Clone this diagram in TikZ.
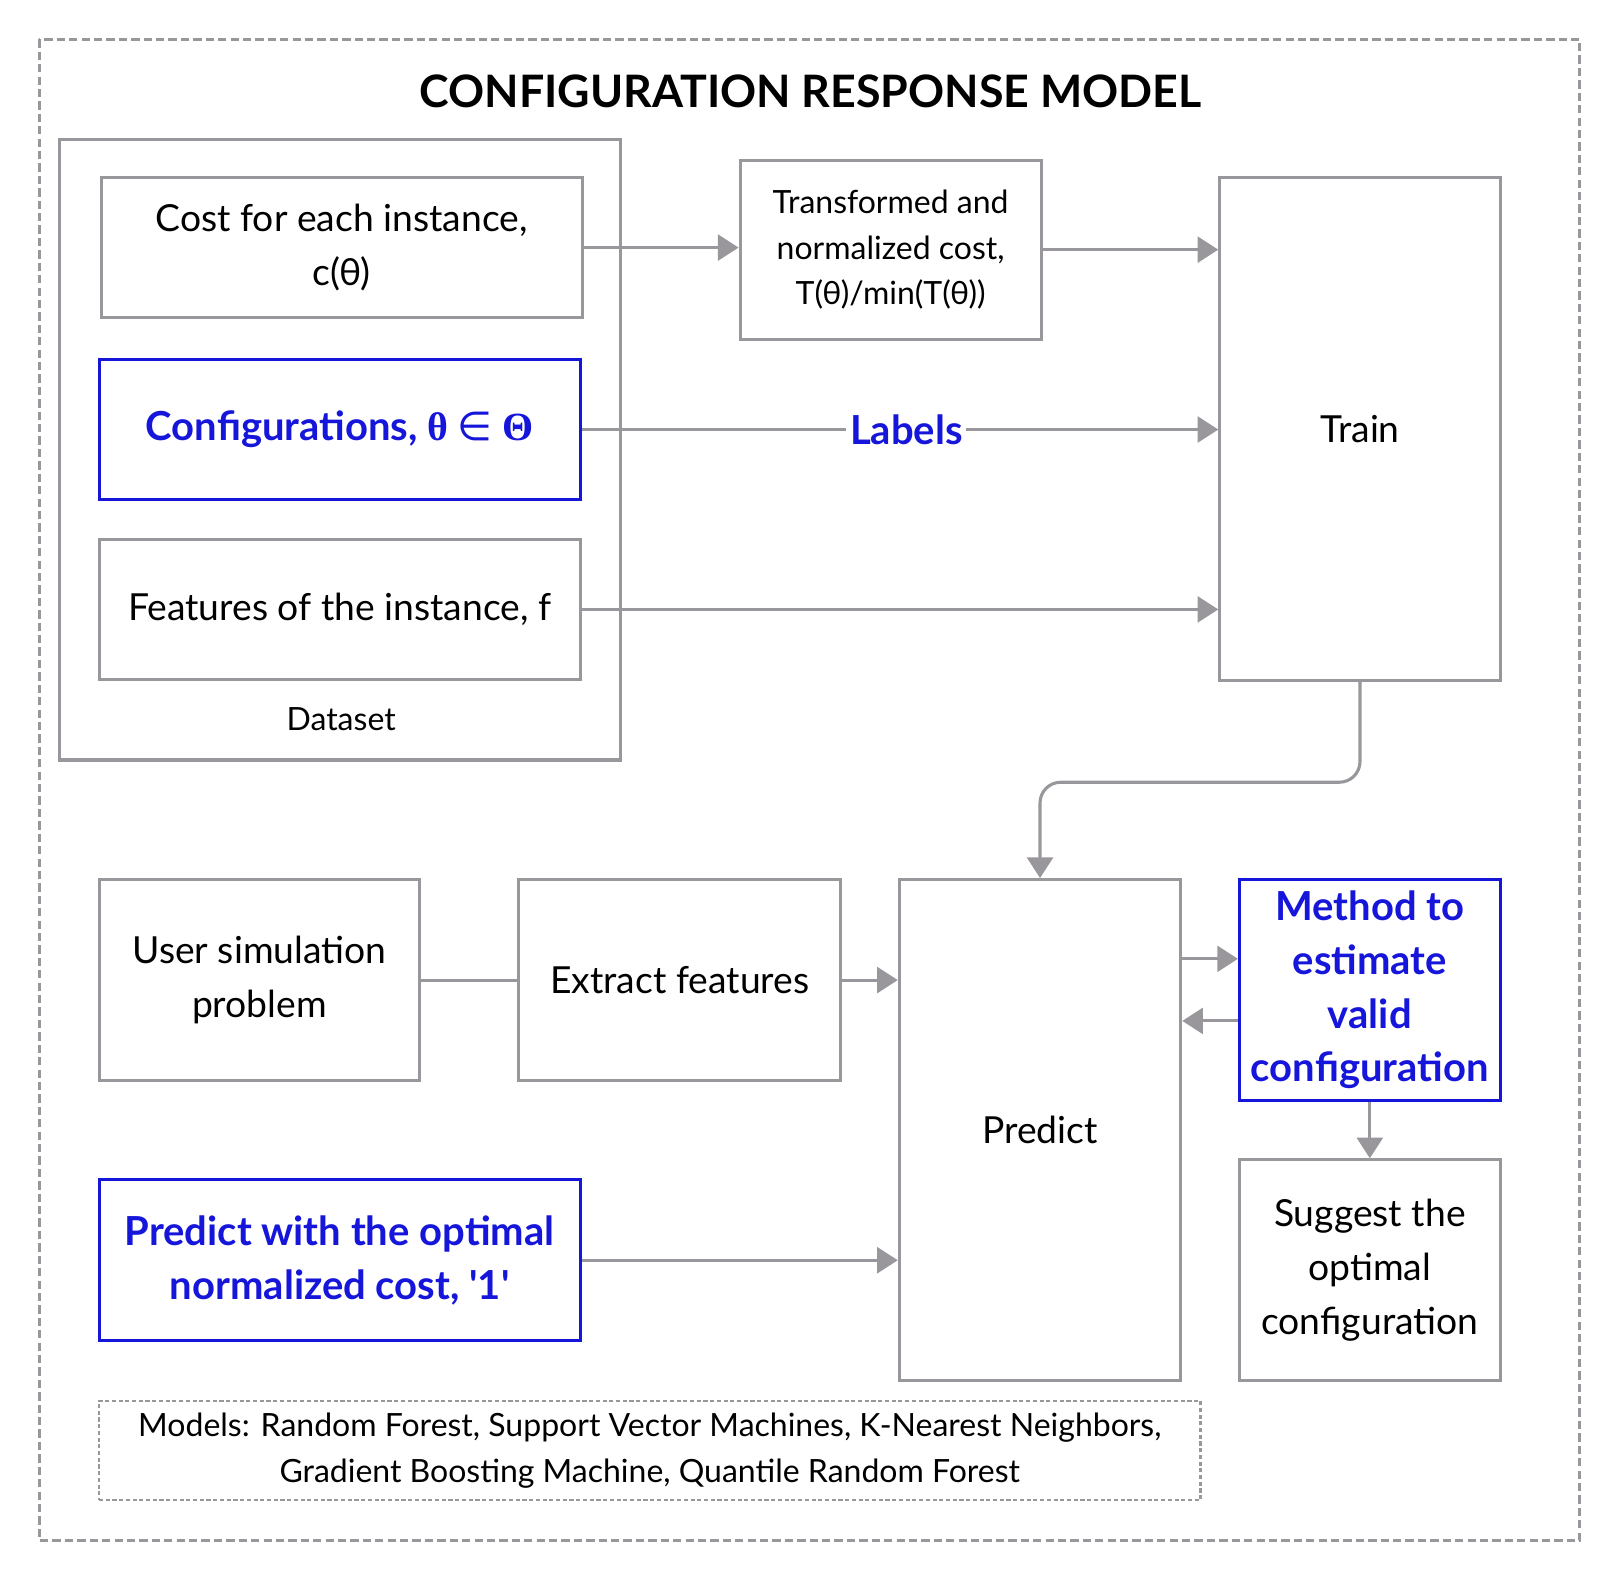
\documentclass[tikz,border=0pt]{standalone}
\usepackage{fontspec}
\setmainfont{Lato}
\newfontfamily\symfont{DejaVu Sans}
\newfontfamily\serfont{Liberation Serif}
\usetikzlibrary{arrows.meta}

\definecolor{boxgray}{RGB}{154,151,156}
\definecolor{cfgblue}{RGB}{22,22,218}

\tikzset{
	box/.style = {draw=boxgray, line width=0.03cm, align=center, inner sep=0pt,
		font=\fontsize{10.25}{14.8}\selectfont},
	bluebox/.style = {box, draw=cfgblue, text=cfgblue,
		font=\fontsize{11}{14.8}\selectfont\bfseries},
	smallbox/.style = {box, font=\fontsize{8.8}{12.5}\selectfont},
	arr/.style = {draw=boxgray, line width=0.03cm, -{Triangle[length=0.2cm, width=0.25cm]}},
	wire/.style = {draw=boxgray, line width=0.03cm},
}

\begin{document}
\begin{tikzpicture}[x = 0.01cm, y = -0.01cm]
	\useasboundingbox (0,0) rectangle (1567,1528);
	\draw[boxgray, line width=0.025cm, dash pattern=on 0.08cm off 0.04cm] (38,38) rectangle (1528,1490);
	\node[font=\fontsize{12.3}{15}\selectfont\bfseries] (title) at (784,88) {CONFIGURATION RESPONSE MODEL};

	% dataset
	\node[box, minimum width=5.42cm, minimum height=6cm] (data) at (329,435) {};
	\node[smallbox, draw=none] (datalbl) at (330,696) {Dataset};
	\node[box, minimum width=4.65cm, minimum height=1.35cm] (cost) at (330.5,239.5) {Cost for each instance,\\c(θ)};
	\node[bluebox, minimum width=4.65cm, minimum height=1.35cm] (config) at (328.5,415.5)
		{Configurations, {\serfont θ} {\symfont\mdseries ∈} {\serfont Θ}};
	\node[box, minimum width=4.65cm, minimum height=1.35cm] (feat) at (328.5,589.5) {Features of the instance, f};

	\node[smallbox, minimum width=2.91cm, minimum height=1.73cm] (trans) at (861.5,241.5) {Transformed and\\normalized cost,\\T(θ)/min(T(θ))};
	\node[box, minimum width=2.71cm, minimum height=4.86cm] (train) at (1315.5,415) {Train};

	\draw[arr] (cost.east) -- (cost.east -| trans.west);
	\draw[arr] (trans.east) -- (trans.east -| train.west);
	\draw[arr] (config.east) -- node[pos=0.51, fill=white, text=cfgblue, inner sep=1pt,
		font=\fontsize{11}{14.8}\selectfont\bfseries] (labels) {Labels} (config.east -| train.west);
	\draw[arr] (feat.east) -- (feat.east -| train.west);

	% prediction
	\node[box, minimum width=3.10cm, minimum height=1.94cm] (user) at (251,948) {User simulation\\problem};
	\node[box, minimum width=3.11cm, minimum height=1.94cm] (ext) at (657.5,948) {Extract features};
	\node[box, minimum width=2.72cm, minimum height=4.84cm] (pred) at (1006,1093) {Predict};
	\node[bluebox, minimum width=2.52cm, minimum height=2.13cm] (meth) at (1325,957.5) {Method to\\estimate\\valid\\configuration};
	\node[box, minimum width=2.52cm, minimum height=2.13cm] (sugg) at (1325,1228.5) {Suggest the\\optimal\\configuration};
	\node[bluebox, minimum width=4.65cm, minimum height=1.56cm] (pw) at (328.5,1219)
		{Predict with the optimal\\normalized cost, \textquotesingle1\textquotesingle};
	\node[smallbox, dash pattern=on 0.04cm off 0.025cm, line width=0.025cm,
		minimum width=10.65cm, minimum height=0.96cm] (models) at (628.5,1403)
		{Models: Random Forest, Support Vector Machines, K-Nearest Neighbors,\\Gradient Boosting Machine, Quantile Random Forest};

	\draw[arr, rounded corners=0.2cm] (train.south) -- ++(0,97) -| (pred.north);
	\draw[wire] (user.east) -- (ext.west);
	\draw[arr] (ext.east) -- (ext.east -| pred.west);
	\draw[arr] ([yshift=0.3cm]meth.west -| pred.east) -- ([yshift=0.3cm]meth.west);
	\draw[arr] ([yshift=-0.3cm]meth.west) -- ([yshift=-0.3cm]meth.west -| pred.east);
	\draw[arr] (meth.south) -- (sugg.north);
	\draw[arr] (pw.east) -- (pw.east -| pred.west);

\end{tikzpicture}
\end{document}
